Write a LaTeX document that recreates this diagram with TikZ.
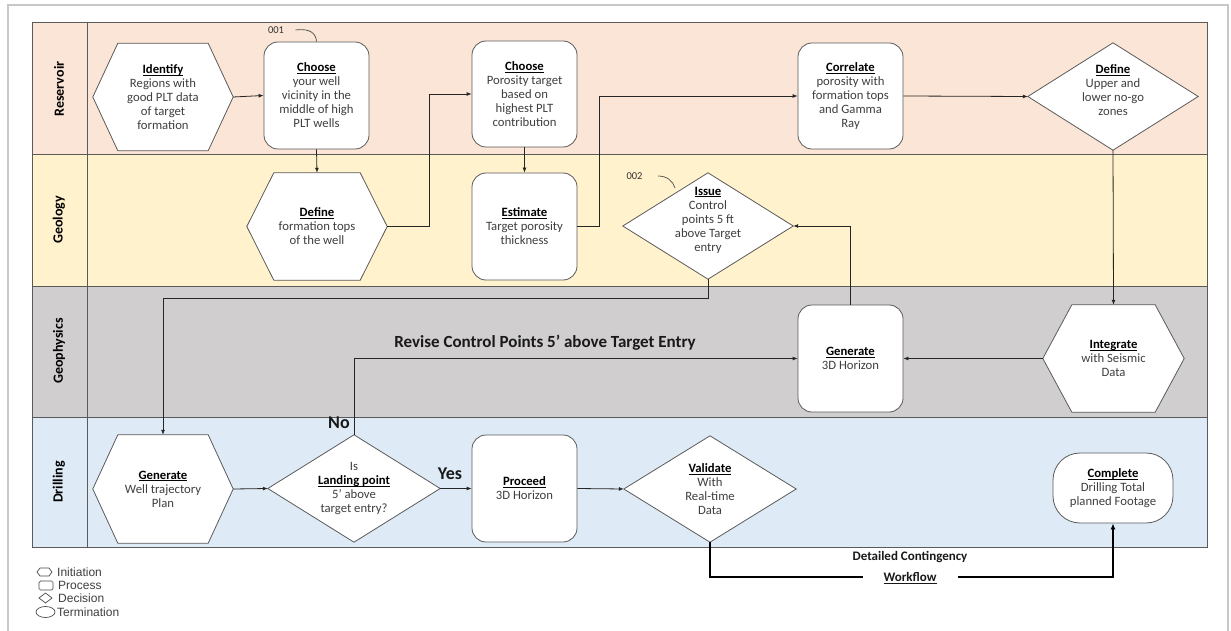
\documentclass[tikz,border=0pt]{standalone}
\usepackage{fontspec}
\setmainfont{Carlito}
\newfontfamily\legendfont{Liberation Sans}
\usetikzlibrary{arrows.meta}
\pgfdeclarelayer{lanes}
\pgfdeclarelayer{shapes}
\pgfsetlayers{lanes,shapes,main}
\definecolor{resC}{HTML}{FBE5D6}
\definecolor{geoC}{HTML}{FFF2CC}
\definecolor{gphC}{HTML}{D0CECE}
\definecolor{drlC}{HTML}{DEEBF7}
\definecolor{edgeC}{HTML}{5A5A5A}
\definecolor{txtC}{HTML}{3F3F3F}
\definecolor{frameC}{HTML}{C8C8C8}
\newcommand{\ulx}[1]{\setbox0\hbox{#1}\rlap{\rule[-1.9pt]{\wd0}{0.7pt}}\box0}
\newcommand{\hd}[1]{\textcolor{black}{\ulx{\textbf{#1}}}}
\newcommand{\hexpath}[2]{\draw[shapeline] (#1.west) -- ([xshift=#2]#1.north west) -- ([xshift=-#2]#1.north east) -- (#1.east) -- ([xshift=-#2]#1.south east) -- ([xshift=#2]#1.south west) -- cycle;}
\newcommand{\diapath}[1]{\draw[shapeline] (#1.west) -- (#1.north) -- (#1.east) -- (#1.south) -- cycle;}
\begin{document}
\begin{tikzpicture}[x=1pt,y=-1pt,
  box/.style={rectangle, inner sep=0pt, align=center, font=\fontsize{12.7}{14}\selectfont, text=txtC},
  procbox/.style={box, draw=edgeC, fill=white, rounded corners=14pt, line width=0.8pt},
  shapeline/.style={draw=edgeC, fill=white, line width=0.8pt},
  laneline/.style={draw=edgeC, line width=1pt},
  lanetitle/.style={rotate=90, font=\fontsize{14}{16}\selectfont\bfseries, text=black},
  conn/.style={draw=black!85, line width=0.8pt, -{Latex[length=5pt,width=4pt]}},
  thickconn/.style={draw=black, line width=2.2pt, -{Latex[length=6pt,width=5pt]}},
  biglabel/.style={font=\fontsize{18}{20}\selectfont\bfseries, text=black!90},
  tag/.style={font=\fontsize{10.5}{12}\selectfont, text=black!80},
  legtext/.style={anchor=west, inner sep=0pt, font=\legendfont\fontsize{12}{13}\selectfont, text=txtC},
  legshape/.style={draw=black!70, line width=0.7pt}
]
\useasboundingbox (0,0) rectangle (1231,631);
\begin{pgfonlayer}{lanes}
  \fill[white] (0,0) rectangle (1231,631);
  \draw[frameC, line width=1.5pt] (8,632) -- (8,5) -- (1228,5) -- (1228,632);
  \fill[resC] (32,23) rectangle (1207,155);
  \fill[geoC] (32,155) rectangle (1207,286);
  \fill[gphC] (32,286) rectangle (1207,417);
  \fill[drlC] (32,417) rectangle (1207,547);
  \draw[laneline] (32,23) rectangle (1207,547);
  \draw[laneline] (32,155) -- (1207,155);
  \draw[laneline] (32,286) -- (1207,286);
  \draw[laneline] (32,417) -- (1207,417);
  \draw[laneline] (87,23) -- (87,547);
\end{pgfonlayer}

% lane titles
\node[lanetitle] (tRes) at (59,89) {Reservoir};
\node[lanetitle] (tGeo) at (59,220) {Geology};
\node[lanetitle] (tGph) at (59,351) {Geophysics};
\node[lanetitle] (tDrl) at (59,482) {Drilling};

% Reservoir
\node[box, minimum width=140, minimum height=107] (ident) at (163,97)
  {\hd{Identify}\\Regions with\\good PLT data\\of target\\formation};
\node[procbox, minimum width=105, minimum height=107] (choose1) at (316.5,95.5)
  {\hd{Choose}\\your well\\vicinity in the\\middle of high\\PLT wells};
\node[procbox, minimum width=105, minimum height=106] (choose2) at (524.5,94)
  {\hd{Choose}\\Porosity target\\based on\\highest PLT\\contribution};
\node[procbox, minimum width=105, minimum height=106] (correl) at (850.5,96)
  {\hd{Correlate}\\porosity with\\formation tops\\and Gamma\\Ray};
\node[box, minimum width=170, minimum height=107] (defd) at (1113,96.5) {};
\node[box] (defdT) at (1113,90.5) {\hd{Define}\\Upper and\\lower no-go\\zones};

% Geology
\node[box, minimum width=140, minimum height=107] (defh) at (317,226.5)
  {\hd{Define}\\formation tops\\of the well};
\node[procbox, minimum width=105, minimum height=107] (estim) at (524.5,226.5)
  {\hd{Estimate}\\Target porosity\\thickness};
\node[box, minimum width=170, minimum height=106] (issue) at (708,226) {};
\node[box] (issueT) at (708,220) {\hd{Issue}\\Control\\points 5 ft\\above Target\\entry};

% Geophysics
\node[procbox, minimum width=105, minimum height=107] (gen3d) at (850.5,358.5)
  {\hd{Generate}\\3D Horizon};
\node[box, minimum width=141, minimum height=107] (integ) at (1113.5,358.5)
  {\hd{Integrate}\\with Seismic\\Data};

% Drilling
\node[box, minimum width=140, minimum height=108] (genwell) at (163,489)
  {\hd{Generate}\\Well trajectory\\Plan};
\node[box, minimum width=172, minimum height=107] (land) at (354,488.5)
  {Is\\\hd{Landing point}\\5’ above\\target entry?};
\node[procbox, minimum width=105, minimum height=107] (proceed) at (524.5,488.5)
  {\hd{Proceed}\\3D Horizon};
\node[box, minimum width=172, minimum height=106] (valid) at (710,489)
  {\hd{Validate}\\With\\Real-time\\Data};
\node[procbox, rounded corners=27pt, minimum width=120, minimum height=70] (complete) at (1113,488)
  {\hd{Complete}\\Drilling Total\\planned Footage};

\begin{pgfonlayer}{shapes}
  \hexpath{ident}{25}
  \hexpath{defh}{27}
  \hexpath{integ}{29}
  \hexpath{genwell}{25}
  \diapath{defd}
  \diapath{issue}
  \diapath{land}
  \diapath{valid}
\end{pgfonlayer}

% tags
\node[tag] (t001) at (276,30) {001};
\draw[black!70, line width=0.7pt] (t001.east) ++(8,0) coordinate (c001) .. controls (311,28) and (316,34) .. (choose1.north);
\node[tag] (t002) at (634.5,176) {002};
\coordinate (c002a) at (658,176);
\coordinate (c002b) at (675,188);
\draw[black!70, line width=0.7pt] (c002a) .. controls (667,176) and (673,181) .. (c002b);

% connectors
\draw[conn] (ident.east) -- (choose1.west);
\draw[conn] (choose1.south) -- (defh.north);
\draw[conn] (defh.east) -- ++(42,0) |- (choose2.west);
\draw[conn] (choose2.south) -- (estim.north);
\draw[conn] (estim.east) -- ++(22,0) |- (correl.west);
\draw[conn] (correl.east) -- (defd.west);
\draw[conn] (defd.south) -- (integ.north);
\draw[conn] (integ.west) -- (gen3d.east);
\draw[conn] (gen3d.north) |- (issue.east);
\draw[conn] (issue.south) -- ++(0,19) -| (genwell.north);
\draw[conn] (genwell.east) -- (land.west);
\draw[conn] (land.north) |- (gen3d.west);
\draw[conn] (land.east) -- (proceed.west);
\draw[conn] (proceed.east) -- (valid.west);
\draw[thickconn] (valid.south) -- ++(0,35) -| (complete.south);

% labels
\node[biglabel] (lNo) at (339,423) {No};
\node[biglabel] (lYes) at (450,474) {Yes};
\node[font=\fontsize{17}{19}\selectfont\bfseries, text=black!90] (lRev) at (545,343)
  {Revise Control Points 5’ above Target Entry};
\node[font=\fontsize{13}{15}\selectfont\bfseries, text=black!90, inner sep=0pt] (lDet) at (910,557)
  {Detailed Contingency};
\node[font=\fontsize{13}{15}\selectfont\bfseries, text=black!90, fill=white, inner xsep=21pt, inner ysep=2pt] (lWf) at (910,578)
  {\ulx{Workflow}};

% legend
\draw[legshape] (37,572) -- (40,568) -- (49,568) -- (52,572) -- (49,576) -- (40,576) -- cycle;
\draw[legshape, rounded corners=1.5pt] (39,581) rectangle (53,590);
\draw[legshape] (39,598) -- (45.5,593) -- (52,598) -- (45.5,603) -- cycle;
\draw[legshape] (45.5,612) ellipse [x radius=9.5, y radius=5.5];
\node[legtext] (lgI) at (57,572) {Initiation};
\node[legtext] (lgP) at (58,585) {Process};
\node[legtext] (lgD) at (58,598) {Decision};
\node[legtext] (lgT) at (57,612) {Termination};
\end{tikzpicture}
\end{document}
